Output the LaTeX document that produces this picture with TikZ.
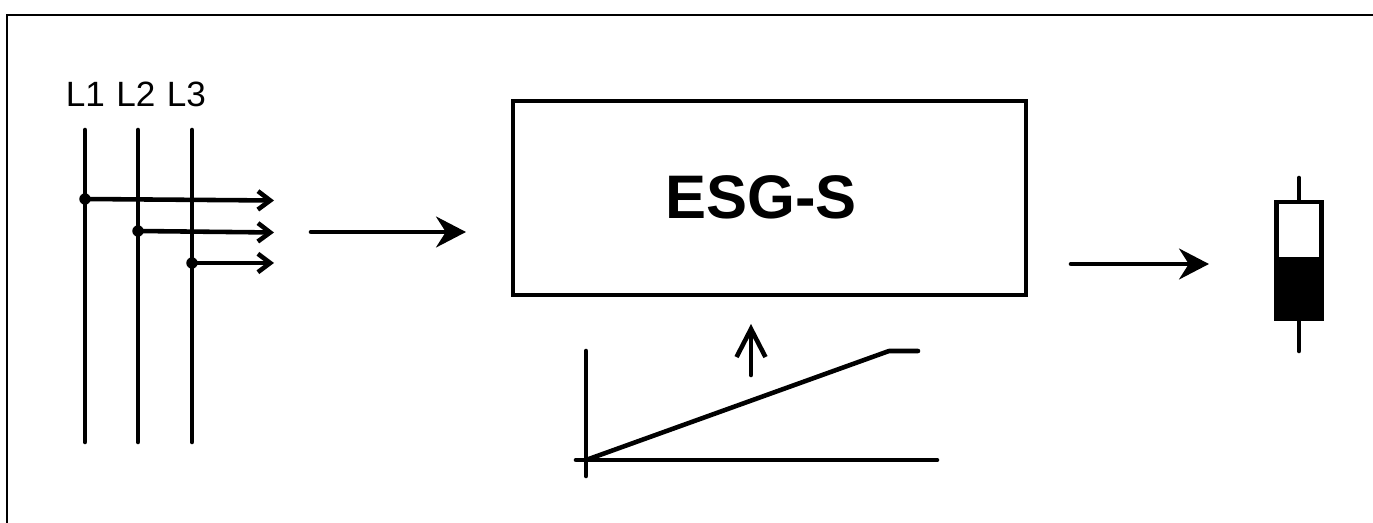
\documentclass[tikz,border=0pt]{standalone}
\usepackage{fontspec}
\setmainfont{Liberation Sans}
\usetikzlibrary{arrows.meta}
\tikzset{
  wire/.style={line width=2.6pt,line cap=round,line join=round},
  tap/.style={wire,-{Straight Barb[length=7pt,width=10.5pt,line width=2.6pt]}},
  signal/.style={wire,-{Stealth[length=17pt,width=17.5pt,inset=5.5pt]}},
  junction/.style={circle,fill=black,inner sep=0pt,minimum size=6.5pt},
  phase/.style={font=\fontsize{20pt}{23pt}\selectfont,inner sep=0pt}
}
\begin{document}
\begin{tikzpicture}[x=0.02cm,y=-0.02cm]
  \useasboundingbox (0,0) rectangle (1373,523);

  % Outer frame
  \draw[line width=1.3pt] (7,523) -- (7,15) -- (1373,15);

  % Phase lines
  \node[phase] (labelA) at (85.5,94) {L1};
  \node[phase] (labelB) at (136,94) {L2};
  \node[phase] (labelC) at (186.5,94) {L3};
  \coordinate (topA) at (85,130);
  \coordinate (topB) at (138,130);
  \coordinate (topC) at (192,130);
  \coordinate (botA) at (85,442);
  \coordinate (botB) at (138,442);
  \coordinate (botC) at (192,442);
  \draw[wire] (topA) -- (botA);
  \draw[wire] (topB) -- (botB);
  \draw[wire] (topC) -- (botC);

  % Tapped phases
  \node[junction] (tapA) at (85,199) {};
  \node[junction] (tapB) at (138,231) {};
  \node[junction] (tapC) at (192,263) {};
  \coordinate (endA) at (274,200.5);
  \coordinate (endB) at (274,232.5);
  \coordinate (endC) at (274,263);
  \draw[tap] (tapA.center) -- (endA);
  \draw[tap] (tapB.center) -- (endB);
  \draw[tap] (tapC.center) -- (endC);

  % Main block
  \node[draw,line width=2.4pt,minimum width=10.27cm,minimum height=3.88cm] (esg) at (769.5,198) {};
  \node[font=\fontsize{35pt}{38pt}\selectfont\bfseries,inner sep=0pt] (esgname) at (761,197) {ESG-S};

  % Signal arrows
  \coordinate (inL) at (311,232);
  \coordinate (inR) at (466,232);
  \draw[signal] (inL) -- (inR);
  \coordinate (outL) at (1071,264);
  \coordinate (outR) at (1209,264);
  \draw[signal] (outL) -- (outR);

  % Ramp
  \coordinate (origin) at (586,460);
  \coordinate (yTop) at (586,351);
  \coordinate (yBot) at (586,476);
  \coordinate (xL) at (576,460);
  \coordinate (xR) at (937,460);
  \coordinate (knee) at (889,351);
  \coordinate (flat) at (918,351);
  \draw[wire] (yTop) -- (yBot);
  \draw[wire] (xL) -- (xR);
  \draw[wire] (origin) -- (knee) -- (flat);
  \coordinate (upB) at (751,375);
  \coordinate (upT) at (751,324);
  \draw[wire,-{Straight Barb[length=16pt,width=16.5pt,line width=2.6pt]}] (upB) -- (upT);

  % Fuse
  \coordinate (fuseT) at (1299,178);
  \coordinate (fuseB) at (1299,351);
  \draw[wire] (fuseT) -- (fuseB);
  \node[draw,fill=white,line width=2.4pt,minimum width=0.9cm,minimum height=2.33cm,inner sep=0pt] (fuse) at (1299,260.5) {};
  \coordinate (fuseMid) at (1275,257);
  \fill (fuseMid) rectangle (fuse.south east);
\end{tikzpicture}
\end{document}
